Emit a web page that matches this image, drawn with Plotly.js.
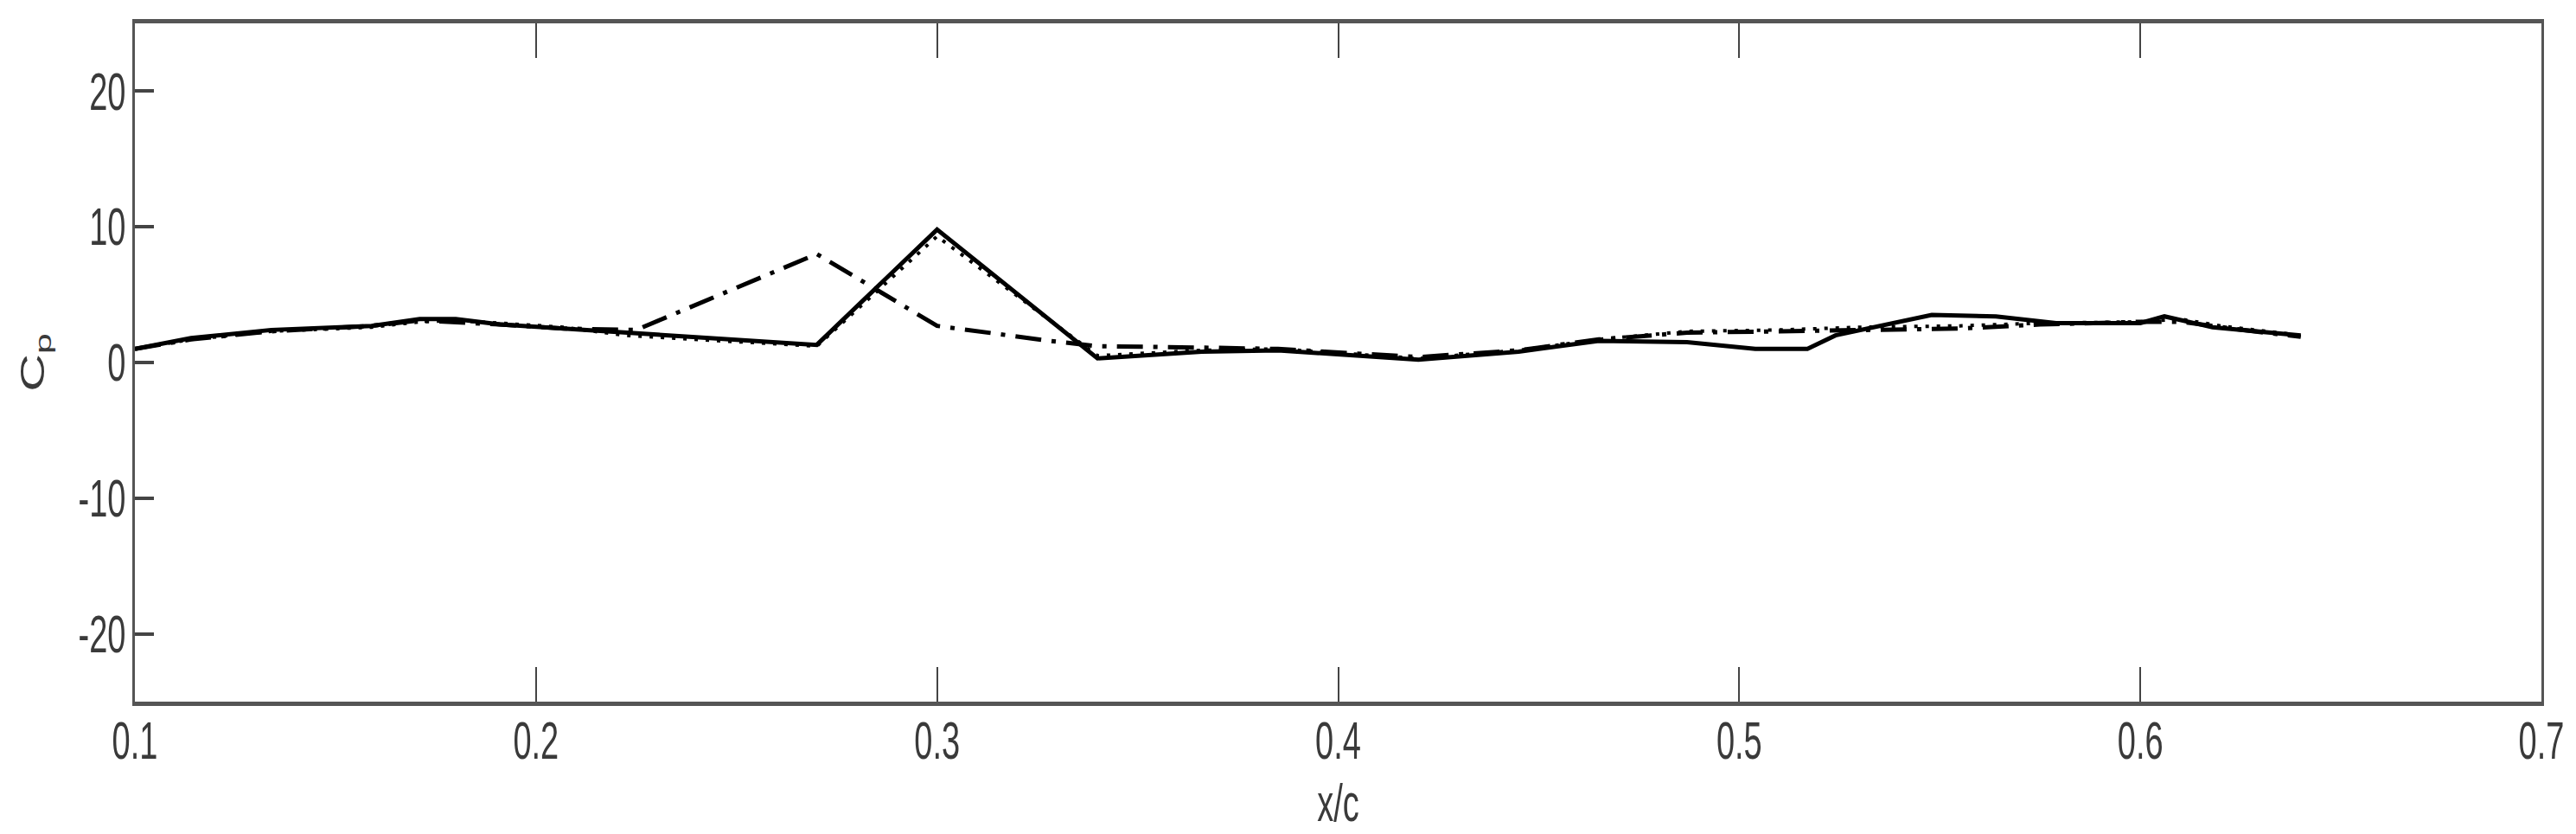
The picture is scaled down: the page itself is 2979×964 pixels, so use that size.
<!DOCTYPE html>
<html>
<head>
<meta charset="utf-8">
<script src="https://cdn.plot.ly/plotly-3.0.1.min.js"></script>
<style>
  html, body { margin: 0; padding: 0; background: #fff; }
  #cpChart { width: 2979px; height: 964px; }
</style>
</head>
<body>
<div id="cpChart"></div>
<script>
// solid curve
var xSolid = [0.100, 0.114, 0.134, 0.159, 0.171, 0.180, 0.191, 0.207, 0.220, 0.247, 0.270, 0.300, 0.340, 0.366, 0.385, 0.420, 0.445, 0.465, 0.487, 0.504, 0.517, 0.524, 0.548, 0.564, 0.579, 0.600, 0.606, 0.618, 0.631, 0.640];
var cpSolid = [1.0, 1.8, 2.4, 2.7, 3.2, 3.2, 2.8, 2.5, 2.2, 1.7, 1.3, 9.8, 0.3, 0.8, 0.9, 0.2, 0.8, 1.6, 1.5, 1.0, 1.0, 2.0, 3.5, 3.4, 2.9, 2.9, 3.4, 2.6, 2.2, 2.0];

// dotted curve
var xDotted = [0.100, 0.114, 0.134, 0.159, 0.171, 0.180, 0.191, 0.207, 0.222, 0.247, 0.270, 0.300, 0.340, 0.366, 0.385, 0.420, 0.445, 0.465, 0.487, 0.510, 0.530, 0.555, 0.575, 0.600, 0.610, 0.620, 0.631, 0.640];
var cpDotted = [1.0, 1.7, 2.3, 2.6, 3.0, 3.1, 2.9, 2.6, 2.0, 1.6, 1.2, 9.3, 0.5, 0.9, 1.0, 0.3, 0.9, 1.7, 2.3, 2.4, 2.6, 2.7, 2.9, 3.0, 3.2, 2.7, 2.3, 2.0];

// dash-dot curve
var xDashDot = [0.100, 0.114, 0.134, 0.159, 0.171, 0.180, 0.191, 0.207, 0.225, 0.270, 0.300, 0.328, 0.340, 0.366, 0.385, 0.420, 0.445, 0.465, 0.487, 0.510, 0.530, 0.555, 0.575, 0.600, 0.610, 0.620, 0.631, 0.640];
var cpDashDot = [1.0, 1.7, 2.3, 2.7, 3.1, 3.0, 2.8, 2.5, 2.4, 8.0, 2.7, 1.6, 1.2, 1.1, 1.0, 0.4, 0.9, 1.7, 2.2, 2.3, 2.4, 2.5, 2.8, 3.0, 3.0, 2.6, 2.2, 1.9];

var xTicks = [0.1, 0.2, 0.3, 0.4, 0.5, 0.6, 0.7];
var xTickText = ["0.1", "0.2", "0.3", "0.4", "0.5", "0.6", "0.7"];
var yTicks = [-20, -10, 0, 10, 20];
var yTickText = ["-20", "-10", "0", "10", "20"];

var labelFont = { family: "Liberation Sans, Arial, sans-serif", size: 38, color: "#3a3a3a" };

var traces = [
    {
        x: xDashDot, y: cpDashDot, type: "scatter", mode: "lines",
        line: { color: "#000", width: 5, dash: "30px,12px,5px,12px" }
    },
    {
        x: xDotted, y: cpDotted, type: "scatter", mode: "lines",
        line: { color: "#000", width: 4, dash: "4px,9px" }
    },
    {
        x: xSolid, y: cpSolid, type: "scatter", mode: "lines",
        line: { color: "#000", width: 5 }
    }
];

var layout = {
    width: 2979,
    height: 964,
    showlegend: false,
    paper_bgcolor: "#fff",
    plot_bgcolor: "#fff",
    margin: { l: 156, r: 40, t: 27, b: 153 },
    font: labelFont,
    xaxis: {
        range: [0.1, 0.7],
        tickvals: xTicks,
        ticktext: xTickText,
        ticks: "inside",
        ticklen: 40,
        tickwidth: 2,
        tickcolor: "#444",
        ticklabelstandoff: 8,
        showline: true,
        linecolor: "#555",
        linewidth: 5,
        mirror: "ticks",
        showgrid: false,
        zeroline: false,
        tickfont: labelFont,
        title: { text: "x/c", font: labelFont, standoff: 40 }
    },
    yaxis: {
        range: [-25, 25],
        tickvals: yTicks,
        ticktext: yTickText,
        ticks: "inside",
        ticklen: 22,
        tickwidth: 4,
        tickcolor: "#444",
        showline: true,
        linecolor: "#555",
        linewidth: 3,
        mirror: true,
        showgrid: false,
        zeroline: false,
        tickfont: labelFont,
        title: { text: "C<sub>p</sub>", font: labelFont, standoff: 28 }
    }
};

// the original picture is stretched vertically, so the labels look tall and narrow
function stretchText(selector, sx, sy) {
    document.querySelectorAll(selector).forEach(function (t) {
        var b = t.getBBox();
        var cx = b.x + b.width / 2;
        var cy = b.y + b.height / 2;
        var prev = t.getAttribute("transform") || "";
        t.setAttribute("transform", prev + " translate(" + cx + "," + cy + ") scale(" + sx + "," + sy + ") translate(" + (-cx) + "," + (-cy) + ")");
    });
}

Plotly.newPlot("cpChart", traces, layout, { staticPlot: true, displayModeBar: false }).then(function () {
    stretchText("#cpChart .xtick text, #cpChart .ytick text, #cpChart .g-xtitle text", 1, 1.6);
    stretchText("#cpChart .g-ytitle text", 1.6, 1);
});
</script>
</body>
</html>
